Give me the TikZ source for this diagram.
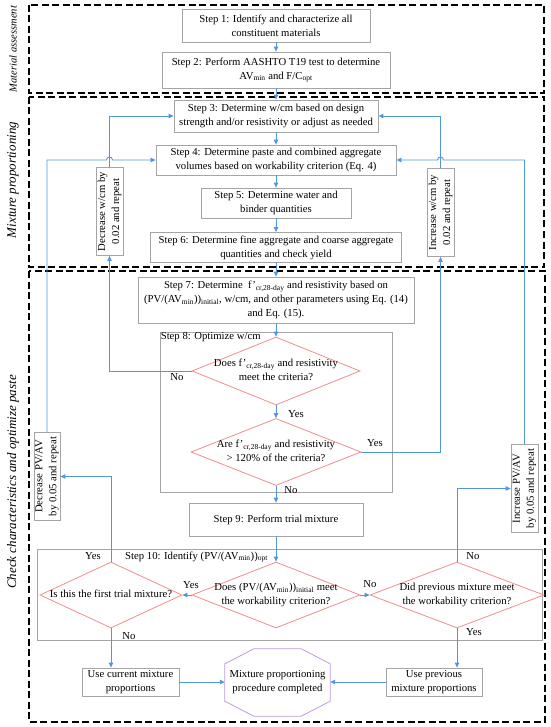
\documentclass[tikz,border=0pt]{standalone}
\usepackage{fontspec}
\setmainfont{Liberation Serif}
\usepackage{xcolor}
\usetikzlibrary{positioning,arrows.meta,shapes.geometric}

\definecolor{boxgray}{RGB}{165,165,165}
\definecolor{flowblue}{RGB}{82,150,222}
\definecolor{diapink}{RGB}{242,140,140}
\definecolor{octpurple}{RGB}{192,152,228}

% text of a decision, kept out of the diamond size
\newcommand{\nowidth}[1]{\makebox[0pt]{\begin{tabular}{@{}c@{}}#1\end{tabular}}}

\tikzset{
  stepbox/.style={draw=boxgray, line width=0.8pt, align=center, inner sep=2pt, minimum height=30pt},
  sidebox/.style={draw=boxgray, line width=0.8pt, align=center, rotate=90, inner sep=1pt, minimum width=88pt, minimum height=27pt},
  groupbox/.style={draw=boxgray, line width=0.8pt},
  decision/.style={diamond, draw=diapink, line width=0.8pt, inner sep=0pt},
  flow/.style={draw=flowblue, line width=0.9pt, -{Triangle[length=5pt,width=4.5pt]}},
  panel/.style={draw=black, line width=1.2pt, dash pattern=on 7pt off 3.5pt},
  sidelabel/.style={rotate=90, font=\fontsize{13}{15}\selectfont\itshape},
  answer/.style={inner sep=1pt}
}

\begin{document}
\begin{tikzpicture}[x=1pt, y=-1pt, font=\fontsize{10.7}{14}\selectfont]
\useasboundingbox (0,0) rectangle (550,727);

% panels
\draw[panel] (29,5) rectangle (544,93);
\draw[panel] (29,97) rectangle (544,267);
\draw[panel] (29,271) rectangle (545,722);
\node[sidelabel, font=\fontsize{10.5}{12}\selectfont\itshape] (lab1) at (13,49) {Material assessment};
\node[sidelabel] (lab2) at (13,180) {Mixture proportioning};
\node[sidelabel] (lab3) at (13,482) {Check characteristics and optimize paste};

% main column
\node[stepbox, minimum width=188pt, minimum height=33pt] (s1) at (276,25.5) {Step 1: Identify and characterize all\\constituent materials};
\node[stepbox, minimum width=228pt, minimum height=36pt] (s2) at (276,70) {Step 2: Perform AASHTO T19 test to determine\\AV\textsubscript{min} and F/C\textsubscript{opt}};
\node[stepbox, minimum width=204pt, minimum height=32pt] (s3) at (276,116) {Step 3: Determine w/cm based on design\\strength and/or resistivity or adjust as needed};
\node[stepbox, minimum width=240pt] (s4) at (276,160) {Step 4: Determine paste and combined aggregate\\volumes based on workability criterion (Eq. 4)};
\node[stepbox, minimum width=150pt] (s5) at (276,203) {Step 5: Determine water and\\binder quantities};
\node[stepbox, minimum width=251pt] (s6) at (276,247.5) {Step 6: Determine fine aggregate and coarse aggregate\\quantities and check yield};
\node[stepbox, minimum width=276pt, minimum height=46pt] (s7) at (276,300) {Step 7: Determine\enspace f'\textsubscript{cr,28-day} and resistivity based on\\(PV/(AV\textsubscript{min}))\textsubscript{initial}, w/cm, and other parameters using Eq. (14)\\and Eq. (15).};

\node[groupbox, minimum width=232pt, minimum height=160pt] (opt8) at (276,412) {};
\node[anchor=north west, inner sep=1pt] (lab8) at (opt8.north west) {Step 8: Optimize w/cm};
\node[decision, minimum width=168pt, minimum height=68pt] (d1) at (276,371) {\nowidth{Does f'\textsubscript{cr,28-day} and resistivity\\meet the criteria?}};
\node[decision, minimum width=170pt, minimum height=67pt] (d2) at (276,452) {\nowidth{Are f'\textsubscript{cr,28-day} and resistivity\\> 120\% of the criteria?}};

\node[stepbox, minimum width=174pt, minimum height=33pt] (s9) at (276,519.5) {Step 9: Perform trial mixture};

\node[groupbox, minimum width=505pt, minimum height=91pt] (opt10) at (289.5,594.5) {};
\node[anchor=west, inner sep=1pt] (lab10) at (124,557) {Step 10: Identify (PV/(AV\textsubscript{min}))\textsubscript{opt}};
\node[decision, minimum width=168pt, minimum height=66pt] (dm) at (276,595) {\nowidth{Does (PV/(AV\textsubscript{min}))\textsubscript{initial} meet\\the workability criterion?}};
\node[decision, minimum width=142pt, minimum height=66pt] (dl) at (111,595) {\nowidth{Is this the first trial mixture?}};
\node[decision, minimum width=174pt, minimum height=66pt] (dr) at (457,595) {\nowidth{Did previous mixture meet\\the workability criterion?}};

\node[stepbox, minimum width=97pt, minimum height=28pt] (usecur) at (130.5,682) {Use current mixture\\proportions};
\node[stepbox, minimum width=96pt, minimum height=28pt] (useprev) at (434,682) {Use previous\\mixture proportions};
\node[minimum width=105pt, minimum height=67pt, align=center] (oct) at (277.5,682.5) {Mixture proportioning\\procedure completed};
\draw[draw=octpurple, line width=0.8pt] ([xshift=29pt]oct.north west) -- ([xshift=-29pt]oct.north east)
  -- ([yshift=-15pt]oct.north east) -- ([yshift=15pt]oct.south east)
  -- ([xshift=-29pt]oct.south east) -- ([xshift=29pt]oct.south west)
  -- ([yshift=15pt]oct.south west) -- ([yshift=-15pt]oct.north west) -- cycle;

% side boxes (rotated: east = top, west = bottom)
\node[sidebox] (decw) at (109.5,211.5) {Decrease w/cm by\\0.02 and repeat};
\node[sidebox] (incw) at (440.5,212.5) {Increase w/cm by\\0.02 and repeat};
\node[sidebox, minimum height=26pt] (decpv) at (47,476.5) {Decrease PV/AV\\by 0.05 and repeat};
\node[sidebox] (incpv) at (524.5,488.5) {Increase PV/AV\\by 0.05 and repeat};

% answers
\node[answer] (no1) at (177,377) {No};
\node[answer] (yes1) at (296,414) {Yes};
\node[answer] (yes2) at (375,443) {Yes};
\node[answer] (no2) at (291,490) {No};
\node[answer] (yes3) at (93,556) {Yes};
\node[answer] (yes4) at (191,585) {Yes};
\node[answer] (no3) at (370,584) {No};
\node[answer] (no4) at (473,556) {No};
\node[answer] (no5) at (129,636) {No};
\node[answer] (yes5) at (474,632) {Yes};

% main flow
\draw[flow] (s1) -- (s2);
\draw[flow] (s2) -- (s3);
\draw[flow] (s3) -- (s4);
\draw[flow] (s4) -- (s5);
\draw[flow] (s5) -- (s6);
\draw[flow] (s6) -- (s7);
\draw[flow] (s7) -- (d1);
\draw[flow] (d1) -- (d2);
\draw[flow] (d2) -- (s9);
\draw[flow] (s9) -- (dm);
\draw[flow] (dm) -- (dl);
\draw[flow] (dm) -- (dr);
\draw[flow] (dl.south) -- (dl.south |- usecur.north);
\draw[flow] (dr.south) -- (dr.south |- useprev.north);
\draw[flow] (usecur.east) -- (usecur.east -| oct.west);
\draw[flow] (useprev.west) -- (useprev.west -| oct.east);

% loops back
\draw[flow] (d1.west) -| (decw.west);
\draw[flow] (decw.east) |- (s3.west);
\draw[flow] (d2.east) -| (incw.west);
\draw[flow] (incw.east) |- (s3.east);
\draw[flow] (dl.north) |- (decpv.south);
\draw[flow] (dr.north) |- (incpv.north);
\draw[flow] (decpv.east) |- ([xshift=-3pt]decw.center |- s4.west) arc[start angle=180, end angle=0, radius=3pt] -- (s4.west);
\draw[flow] (incpv.east) |- ([xshift=3pt]incw.center |- s4.east) arc[start angle=0, end angle=180, radius=3pt] -- (s4.east);
\end{tikzpicture}
\end{document}
